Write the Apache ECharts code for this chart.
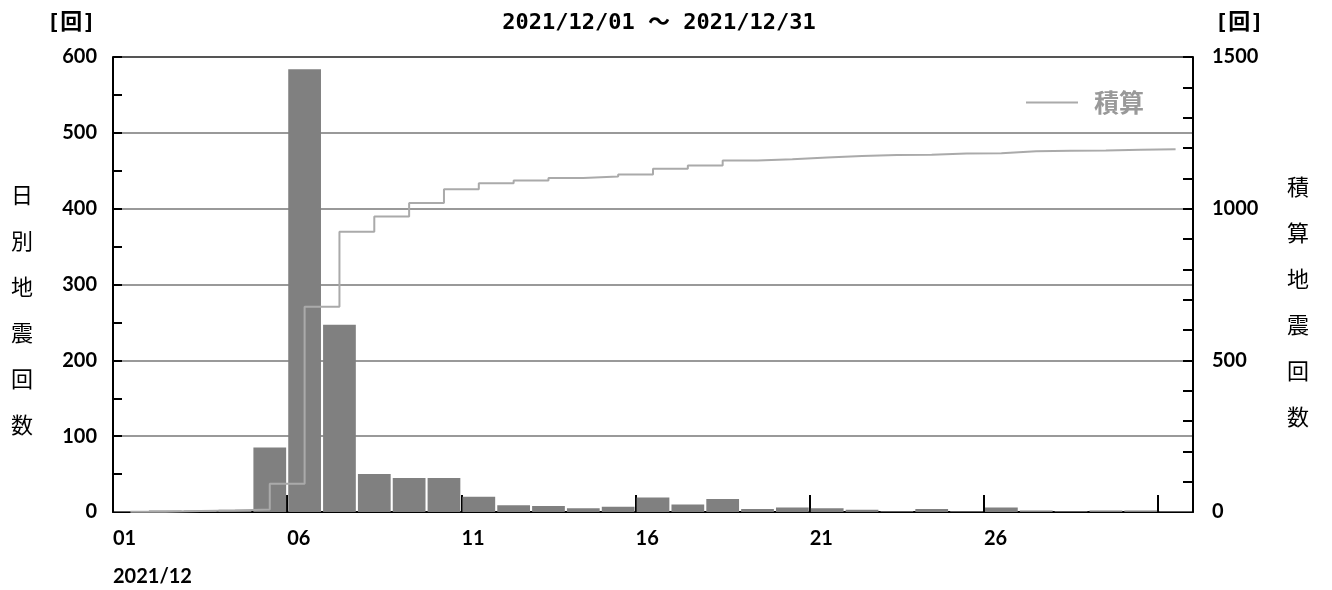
<!DOCTYPE html>
<html>
<head>
<meta charset="utf-8">
<script src="https://cdn.jsdelivr.net/npm/echarts@6/dist/echarts.min.js"></script>
<style>
    html, body { margin: 0; padding: 0; background: #fff; }
    #chart { width: 1332px; height: 590px; }
</style>
</head>
<body>
<div id="chart"></div>
<script>
// 日付（2021/12）
const days = ['01', '02', '03', '04', '05', '06', '07', '08', '09', '10',
    '11', '12', '13', '14', '15', '16', '17', '18', '19', '20',
    '21', '22', '23', '24', '25', '26', '27', '28', '29', '30', '31']
// 日別地震回数
const dailyCounts = [1, 2, 2, 3, 85, 584, 247, 50, 45, 45,
    20, 9, 8, 5, 7, 19, 10, 17, 4, 6,
    5, 3, 1, 4, 1, 6, 2, 1, 2, 2, 1]
// 目盛り位置（日の境界）
const boundaryLabels = days.concat([''])
const periodTitle = '2021/12/01 〜 2021/12/31'
const monthLabel = '2021/12'

// 積算
const cumulative = []
dailyCounts.reduce((sum, v) => {
    cumulative.push(sum + v)
    return sum + v
}, 0)

const labelFont = 'Lato, "Noto Sans", sans-serif'
const cjkFont = '"Noto Sans CJK JP", sans-serif'
const monoFont = '"DejaVu Sans Mono", ' + cjkFont
const black = { color: '#000', width: 2 }

// 縦書きの軸名（先頭の空行で上下位置を調整）
const verticalName = (text) => '{s|}\n' + text.split('').map(c => `{t|${c}}`).join('\n')
const nameStyle = (shift) => ({
    rich: {
        s: { lineHeight: shift },
        t: { fontFamily: cjkFont, fontSize: 22, color: '#000', lineHeight: 46 }
    }
})

const chart = echarts.init(document.getElementById('chart'))
chart.setOption({
    animation: false,
    title: [{
        text: periodTitle,
        left: 654,
        top: 7,
        textAlign: 'center',
        textStyle: { fontFamily: monoFont, fontWeight: 'bold', fontSize: 22, color: '#000' }
    }, {
        text: '[回]',
        left: 42,
        top: 7,
        textStyle: { fontFamily: monoFont, fontWeight: 'bold', fontSize: 22, color: '#000' }
    }, {
        text: '[回]',
        left: 1210,
        top: 7,
        textStyle: { fontFamily: monoFont, fontWeight: 'bold', fontSize: 22, color: '#000' }
    }],
    legend: {
        data: ['積算'],
        right: 183,
        top: 85,
        icon: 'rect',
        itemWidth: 52,
        itemHeight: 2,
        textStyle: { color: '#999', fontWeight: 'bold', fontSize: 25, fontFamily: cjkFont, padding: [0, 0, 0, 11] }
    },
    grid: { left: 113, right: 139, top: 57, bottom: 78, outerBoundsMode: 'none' },
    xAxis: [{
        type: 'category',
        data: days,
        boundaryGap: true,
        axisLine: { lineStyle: black },
        axisTick: { inside: true, length: 8, interval: 0, lineStyle: black },
        axisLabel: { show: false },
        splitLine: { show: false }
    }, {
        type: 'category',
        data: boundaryLabels,
        boundaryGap: false,
        position: 'bottom',
        axisLine: { show: false },
        axisTick: { inside: true, length: 17, interval: (i) => i % 5 === 0, lineStyle: black },
        axisLabel: {
            interval: (i) => i % 5 === 0 && i < 30,
            align: 'left',
            margin: 8,
            lineHeight: 38,
            color: '#000',
            fontFamily: labelFont,
            fontWeight: 'bold',
            fontSize: 20,
            formatter: (v, i) => i === 0 ? v + '\n' + monthLabel : v
        },
        splitLine: { show: false }
    }],
    yAxis: [{
        type: 'value',
        min: 0,
        max: 600,
        interval: 100,
        name: verticalName('日別地震回数'),
        nameLocation: 'middle',
        nameRotate: 0,
        nameGap: 80,
        nameTextStyle: nameStyle(51),
        axisLine: { show: true, lineStyle: black },
        axisTick: { show: true, inside: true, length: 9, lineStyle: black },
        minorTick: { show: true, splitNumber: 2, length: 9, lineStyle: black },
        axisLabel: { margin: 16, color: '#000', fontFamily: labelFont, fontWeight: 'bold', fontSize: 20 },
        splitLine: { show: true, lineStyle: { color: ['#999', '#999', '#999', '#999', '#999', '#999', '#555'], width: 2 } }
    }, {
        type: 'value',
        min: 0,
        max: 1500,
        interval: 500,
        position: 'right',
        name: verticalName('積算地震回数'),
        nameLocation: 'middle',
        nameRotate: 0,
        nameGap: 94,
        nameTextStyle: nameStyle(35),
        axisLine: { show: true, lineStyle: black },
        axisTick: { show: true, inside: true, length: 10, lineStyle: black },
        minorTick: { show: true, splitNumber: 5, length: 10, lineStyle: black },
        axisLabel: { margin: 19, color: '#000', fontFamily: labelFont, fontWeight: 'bold', fontSize: 20, formatter: (v) => String(v) },
        splitLine: { show: false }
    }],
    series: [{
        name: '日別',
        type: 'bar',
        xAxisIndex: 0,
        yAxisIndex: 0,
        barCategoryGap: '6%',
        itemStyle: { color: '#808080' },
        data: dailyCounts
    }, {
        name: '積算',
        type: 'line',
        xAxisIndex: 0,
        yAxisIndex: 1,
        step: 'end',
        symbol: 'none',
        lineStyle: { color: '#aaa', width: 2 },
        itemStyle: { color: '#aaa' },
        z: 3,
        data: cumulative
    }]
})
</script>
</body>
</html>
